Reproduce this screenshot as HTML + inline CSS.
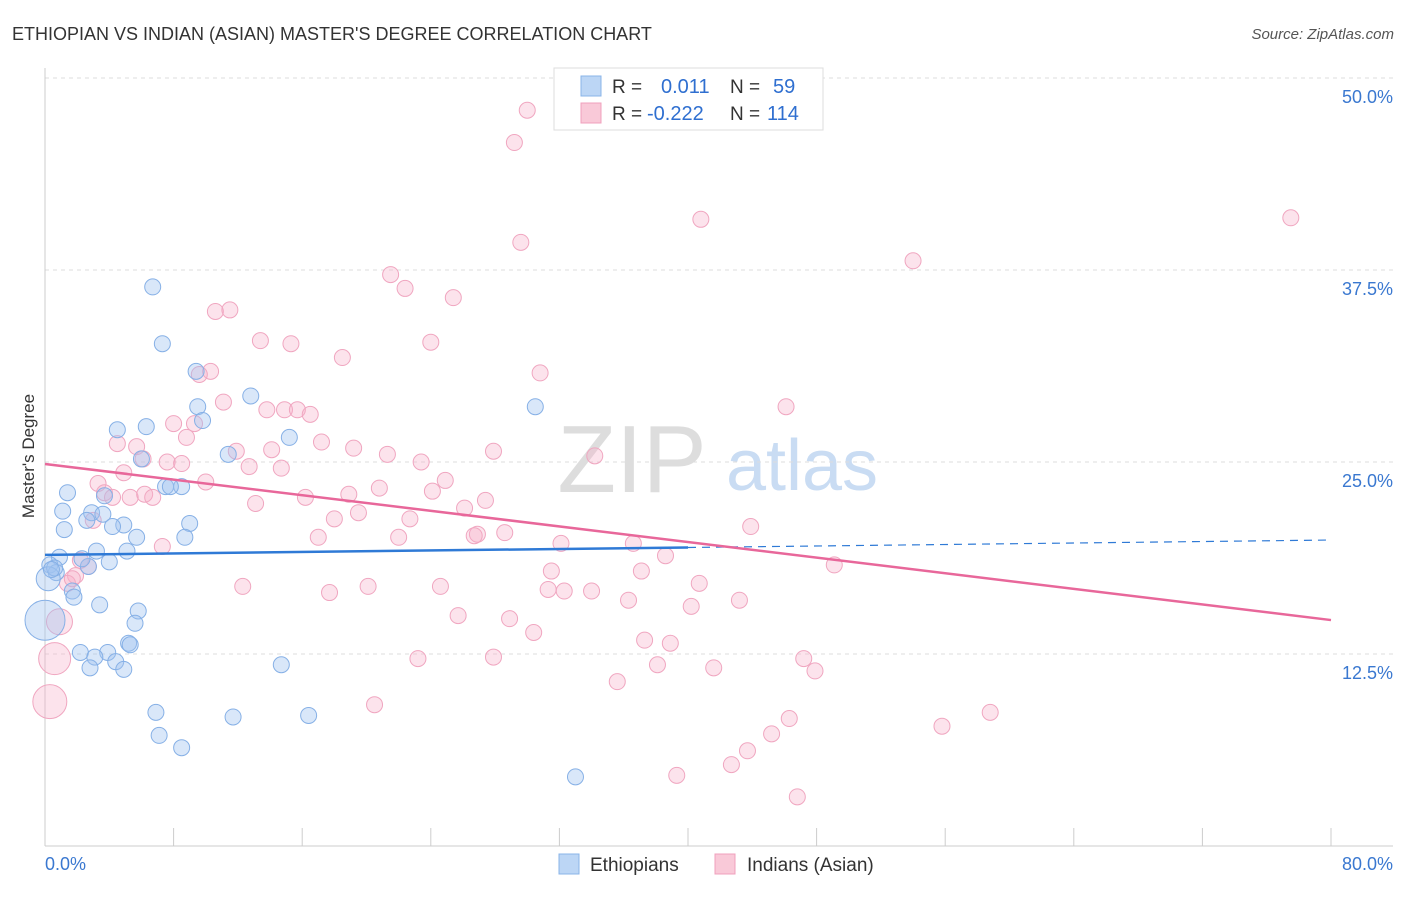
<!DOCTYPE html>
<html><head><meta charset="utf-8"><style>
body{margin:0;background:#fff;font-family:"Liberation Sans",sans-serif;}
svg text{font-family:"Liberation Sans",sans-serif;}
</style></head><body>
<svg id="chart" width="1406" height="892" xmlns="http://www.w3.org/2000/svg">
<text x="12" y="40" font-size="18" fill="#333">ETHIOPIAN VS INDIAN (ASIAN) MASTER'S DEGREE CORRELATION CHART</text>
<text x="1394" y="39" font-size="15" fill="#555" text-anchor="end" font-style="italic">Source: ZipAtlas.com</text>
<text x="632" y="492" font-size="96" fill="#ddd" text-anchor="middle" font-family="Liberation Serif">ZIP</text>
<text x="802" y="490" font-size="72" fill="#c9dcf3" text-anchor="middle">atlas</text>
<g id="grid"></g>
<g id="axes"></g>
<g id="pts"></g>
<g id="lines"></g>
<text transform="translate(34,456) rotate(-90)" font-size="17" fill="#333" text-anchor="middle">Master's Degree</text>
<g>
<rect x="554" y="68" width="269" height="62" fill="#fff" stroke="#ddd"/>
<rect x="581" y="76" width="20" height="20" fill="#bcd6f5" stroke="#8ab4e8"/>
<rect x="581" y="103" width="20" height="20" fill="#f9c9d8" stroke="#f0a0bc"/>
<text x="612" y="93" font-size="19" fill="#333">R =</text>
<text x="661" y="93" font-size="20" fill="#2f6fd0">0.011</text>
<text x="730" y="93" font-size="19" fill="#333">N =</text>
<text x="773" y="93" font-size="20" fill="#2f6fd0">59</text>
<text x="612" y="120" font-size="19" fill="#333">R =</text>
<text x="647" y="120" font-size="20" fill="#2f6fd0">-0.222</text>
<text x="730" y="120" font-size="19" fill="#333">N =</text>
<text x="767" y="120" font-size="20" fill="#2f6fd0">114</text>
</g>
<g>
<rect x="559" y="854" width="20" height="20" fill="#bcd6f5" stroke="#8ab4e8"/>
<text x="590" y="871" font-size="19" fill="#333">Ethiopians</text>
<rect x="715" y="854" width="20" height="20" fill="#f9c9d8" stroke="#f0a0bc"/>
<text x="747" y="871" font-size="19" fill="#333">Indians (Asian)</text>
</g>
</svg>
<script>
const yTicks=[12.5,25,37.5,50];
const yTickLabels=["12.5%","25.0%","37.5%","50.0%"];
const xTickVals=[0,8,16,24,32,40,48,56,64,72,80];
const xEndLabels=["0.0%","80.0%"];
const blueX=[6.7,7.3,9.4,12.8,9.5,9.8,6.3,4.5,15.2,6.0,11.4,30.5,1.4,3.7,7.5,8.5,7.8,1.1,2.9,3.6,2.6,4.9,4.2,9.0,1.2,5.7,8.7,3.2,5.1,0.9,4.0,0.3,0.7,2.7,2.3,1.7,1.8,3.4,5.8,5.6,5.2,5.3,2.2,3.9,3.1,4.4,2.8,4.9,14.7,6.9,11.7,16.4,7.1,8.5,33.0,0.0,0.2,0.6,0.4];
const blueY=[36.4,32.7,30.9,29.3,28.6,27.7,27.3,27.1,26.6,25.2,25.5,28.6,23.0,22.8,23.4,23.4,23.4,21.8,21.7,21.6,21.2,20.9,20.8,21.0,20.6,20.1,20.1,19.2,19.2,18.8,18.5,18.3,17.8,18.2,18.7,16.6,16.2,15.7,15.3,14.5,13.2,13.1,12.6,12.6,12.3,12.0,11.6,11.5,11.8,8.7,8.4,8.5,7.2,6.4,4.5,14.7,17.4,18.1,18.0];
const blueR=[8,8,8,8,8,8,8,8,8,8,8,8,8,8,8,8,8,8,8,8,8,8,8,8,8,8,8,8,8,8,8,8,8,8,8,8,8,8,8,8,8,8,8,8,8,8,8,8,8,8,8,8,8,8,8,20,12,8,8];
const pinkX=[30.0,29.2,40.8,77.5,29.6,54.0,21.5,22.4,25.4,10.6,11.5,13.4,15.3,18.5,24.0,30.8,10.3,9.6,11.1,46.1,13.8,14.9,15.7,16.5,8.0,9.3,8.8,4.5,5.7,17.2,11.9,19.2,14.1,21.3,27.9,34.2,6.1,7.6,8.5,12.7,14.7,23.4,4.9,10.0,3.3,24.9,20.8,24.1,3.7,4.2,5.3,6.2,6.7,18.9,16.2,27.4,13.1,26.1,19.5,18.0,22.7,3.0,43.9,26.9,28.6,26.7,17.0,22.0,32.1,36.6,38.6,7.3,2.2,2.7,1.9,1.4,1.7,31.5,37.1,49.1,12.3,17.7,20.1,24.6,31.3,32.3,34.0,40.7,36.3,43.2,40.2,25.7,28.9,30.4,37.3,38.9,23.2,27.9,38.1,41.6,47.2,47.9,35.6,20.5,58.8,55.8,46.3,45.2,43.7,42.7,39.3,46.8,0.9,0.6,0.3];
const pinkY=[47.9,45.8,40.8,40.9,39.3,38.1,37.2,36.3,35.7,34.8,34.9,32.9,32.7,31.8,32.8,30.8,30.9,30.7,28.9,28.6,28.4,28.4,28.4,28.1,27.5,27.5,26.6,26.2,26.0,26.3,25.7,25.9,25.8,25.5,25.7,25.4,25.2,25.0,24.9,24.7,24.6,25.0,24.3,23.7,23.6,23.8,23.3,23.1,23.0,22.7,22.7,22.9,22.7,22.9,22.7,22.5,22.3,22.0,21.7,21.3,21.3,21.2,20.8,20.3,20.4,20.2,20.1,20.1,19.7,19.7,18.9,19.5,18.6,18.2,17.6,17.1,17.4,17.9,17.9,18.3,16.9,16.5,16.9,16.9,16.7,16.6,16.6,17.1,16.0,16.0,15.6,15.0,14.8,13.9,13.4,13.2,12.2,12.3,11.8,11.6,12.2,11.4,10.7,9.2,8.7,7.8,8.3,7.3,6.2,5.3,4.6,3.2,14.6,12.2,9.4];
const pinkBig={112:13,113:16,114:17};
const blueTrend=[18.95,19.92];
const pinkTrend=[24.87,14.71];
const blueSolidEnd=40;

const X0=45,X1=1331,Y0=846,PXY=15.36;
const xs=v=>X0+(v/80)*(X1-X0);
const ys=v=>Y0-v*PXY;
const NS='http://www.w3.org/2000/svg';
function mk(tag,attrs,parent){const e=document.createElementNS(NS,tag);for(const k in attrs)e.setAttribute(k,attrs[k]);parent.appendChild(e);return e;}
const grid=document.getElementById('grid'),axes=document.getElementById('axes'),pts=document.getElementById('pts'),lines=document.getElementById('lines');
mk('line',{x1:X0,x2:1393,y1:ys(50)+0,y2:ys(50),stroke:'#ddd','stroke-dasharray':'4,4'},grid);
yTicks.forEach((t,i)=>{
 const l=mk('line',{x1:X0,x2:1393,y1:ys(t),y2:ys(t),stroke:'#ddd','stroke-dasharray':'4,4'},grid);
 
 
 const tx=mk('text',{x:1393,y:ys(t)+25,'font-size':18,fill:'#3a78d0','text-anchor':'end'},axes);
 tx.textContent=yTickLabels[i];
 
 
});
const ya=mk('line',{x1:X0,x2:X0,y1:68,y2:846,stroke:'#ccc'},axes);


const xa=mk('line',{x1:X0,x2:1393,y1:846,y2:846,stroke:'#ccc'},axes);


xTickVals.forEach(t=>{
 const l=mk('line',{x1:xs(t),x2:xs(t),y1:828,y2:846,stroke:'#ccc'},axes);
 
 
});
const xl0=mk('text',{x:45,y:870,'font-size':18,fill:'#3a78d0'},axes);xl0.textContent=xEndLabels[0];


const xl1=mk('text',{x:1393,y:870,'font-size':18,fill:'#3a78d0','text-anchor':'end'},axes);xl1.textContent=xEndLabels[1];



pinkX.forEach((v,i)=>{
 const c=mk('circle',{cx:xs(v),cy:ys(pinkY[i]),r:pinkBig[i]||8,fill:'rgba(246,176,200,0.35)',stroke:'#f0a6c0','stroke-width':1},pts);
 
 
});
blueX.forEach((v,i)=>{
 const c=mk('circle',{cx:xs(v),cy:ys(blueY[i]),r:blueR[i],fill:'rgba(160,196,240,0.4)',stroke:'#86b0e6','stroke-width':1},pts);
 
 
});
const bAt=x=>blueTrend[0]+(blueTrend[1]-blueTrend[0])*x/80;
const bl=mk('line',{x1:xs(0),y1:ys(bAt(0)),x2:xs(blueSolidEnd),y2:ys(bAt(blueSolidEnd)),stroke:'#2f7ad6','stroke-width':2.5},lines);


const bd=mk('line',{x1:xs(blueSolidEnd),y1:ys(bAt(blueSolidEnd)),x2:xs(80),y2:ys(bAt(80)),stroke:'#2f7ad6','stroke-width':1.2,'stroke-dasharray':'8,6'},lines);


const pl=mk('line',{x1:xs(0),y1:ys(pinkTrend[0]),x2:xs(80),y2:ys(pinkTrend[1]),stroke:'#e8679a','stroke-width':2.5},lines);


</script>
</body></html>
